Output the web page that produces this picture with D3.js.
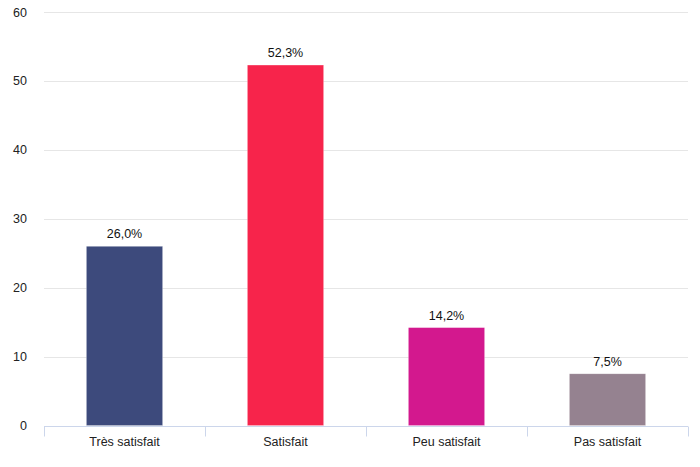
<!DOCTYPE html>
<html><head><meta charset="utf-8">
<script src="https://cdn.jsdelivr.net/npm/d3@7"></script>
<style>body{margin:0;background:#fff;}svg{display:block;font-family:"Liberation Sans",Arial,sans-serif;}</style>
</head><body><svg id="c" width="700" height="467"></svg>
<script>
const categories = ["Très satisfait","Satisfait","Peu satisfait","Pas satisfait"];
const values = [26.0, 52.3, 14.2, 7.5];
const valueLabels = ["26,0%","52,3%","14,2%","7,5%"];
const colors = ["#3d4a7c","#f7244b","#d3188e","#958290"];
const yTicks = [0,10,20,30,40,50,60];

(function(){
const svg = d3.select("#c");
const mLeft = 44, mRight = 688, mTop = 12, mBottom = 425.5;
const x = d3.scaleBand().domain(categories).range([mLeft, mRight]).paddingInner(0).paddingOuter(0);
const y = d3.scaleLinear().domain([0,60]).range([mBottom, mTop]);
const bw = x.bandwidth()*0.473;

// gridlines
svg.append("g").selectAll("line").data(yTicks.filter(d=>d>0)).join("line")
  .attr("x1", mLeft).attr("x2", mRight)
  .attr("y1", d=>Math.round(y(d))+0.5).attr("y2", d=>Math.round(y(d))+0.5)
  .attr("stroke","#e6e6e6").attr("stroke-width",1);

// y labels
svg.append("g").selectAll("text").data(yTicks).join("text")
  .attr("x", 27).attr("y", d=>y(d)+4.5)
  .attr("text-anchor","end").attr("font-size",12.5).attr("fill","#222")
  .text(d=>d);

// bars
svg.append("g").selectAll("rect").data(values).join("rect")
  .attr("x",(d,i)=>x(categories[i])+(x.bandwidth()-bw)/2)
  .attr("width",bw)
  .attr("y",d=>y(d)).attr("height",d=>y(0)-y(d))
  .attr("fill",(d,i)=>colors[i])
  .attr("stroke","rgba(255,255,255,0.35)").attr("stroke-width",0.6);

// value labels
svg.append("g").selectAll("text").data(values).join("text")
  .attr("x",(d,i)=>x(categories[i])+x.bandwidth()/2)
  .attr("y",d=>y(d)-8)
  .attr("text-anchor","middle").attr("font-size",12.5).attr("fill","#111")
  .text((d,i)=>valueLabels[i]);

// x axis
const g = svg.append("g").attr("transform",`translate(0,${Math.round(mBottom)+0.5})`);
g.append("line").attr("x1",mLeft).attr("x2",mRight).attr("stroke","#ccd6eb");
const bounds = [mLeft, ...categories.map(c=>x(c)+x.bandwidth())];
g.selectAll("line.t").data(bounds).join("line").attr("class","t")
  .attr("x1",d=>Math.round(d)+0.5).attr("x2",d=>Math.round(d)+0.5)
  .attr("y1",0).attr("y2",10).attr("stroke","#ccd6eb");
g.selectAll("text.l").data(categories).join("text").attr("class","l")
  .attr("x",d=>x(d)+x.bandwidth()/2).attr("y",19)
  .attr("text-anchor","middle").attr("font-size",12.5).attr("fill","#222")
  .text(d=>d);
})();
</script></body></html>
